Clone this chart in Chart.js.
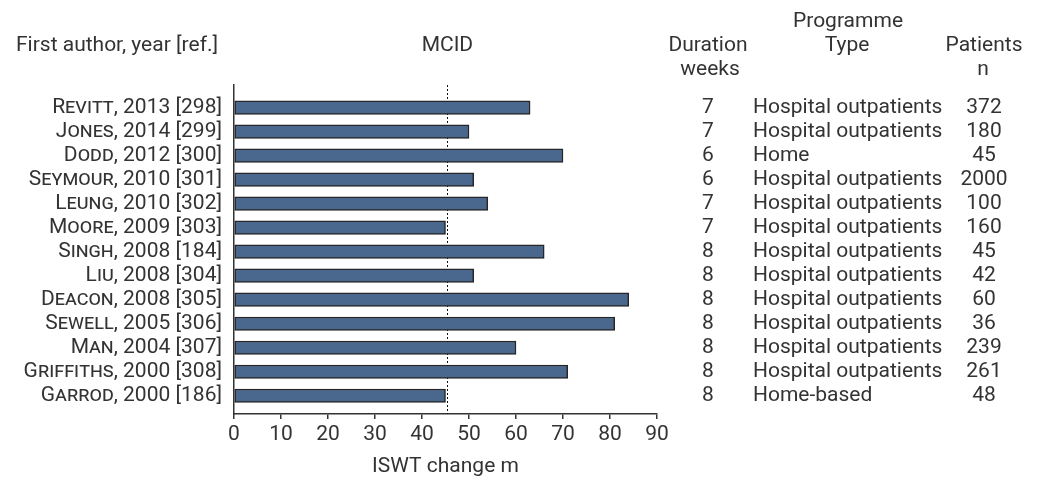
<!DOCTYPE html>
<html lang="en">
<head>
<meta charset="UTF-8">
<title>ISWT change after pulmonary rehabilitation</title>
<script src="https://cdn.jsdelivr.net/npm/chart.js@4"></script>
<style>
    html, body { margin: 0; padding: 0; background: #fff; }
    #wrap { width: 1040px; height: 481px; }
</style>
</head>
<body>
<div id="wrap"><canvas id="chart" width="1040" height="481"></canvas></div>
<script>
// study rows, top to bottom
const authors = [
    'Revitt, 2013 [298]', 'Jones, 2014 [299]', 'Dodd, 2012 [300]', 'Seymour, 2010 [301]',
    'Leung, 2010 [302]', 'Moore, 2009 [303]', 'Singh, 2008 [184]', 'Liu, 2008 [304]',
    'Deacon, 2008 [305]', 'Sewell, 2005 [306]', 'Man, 2004 [307]', 'Griffiths, 2000 [308]',
    'Garrod, 2000 [186]'
];
const iswtChange = [63, 50, 70, 51, 54, 45, 66, 51, 84, 81, 60, 71, 45];
const durationWeeks = [7, 7, 6, 6, 7, 7, 8, 8, 8, 8, 8, 8, 8];
const programmeType = [
    'Hospital outpatients', 'Hospital outpatients', 'Home', 'Hospital outpatients',
    'Hospital outpatients', 'Hospital outpatients', 'Hospital outpatients', 'Hospital outpatients',
    'Hospital outpatients', 'Hospital outpatients', 'Hospital outpatients', 'Hospital outpatients',
    'Home-based'
];
const patients = [372, 180, 45, 2000, 100, 160, 45, 42, 60, 36, 239, 261, 48];
const xMin = 0, xMax = 90, xStep = 10;
const mcid = 45.4;

const textColor = '#333';
const axisColor = '#333';
const fontFamily = 'Roboto, "Noto Sans", sans-serif';

// dotted MCID line, behind the bars
const mcidLine = {
    id: 'mcidLine',
    beforeDatasetsDraw(chart) {
        const { ctx, chartArea, scales: { x } } = chart;
        const px = Math.round(x.getPixelForValue(mcid)) + 0.5;
        ctx.save();
        ctx.strokeStyle = '#111';
        ctx.lineWidth = 1;
        ctx.setLineDash([2, 2]);
        ctx.beginPath();
        ctx.moveTo(px, chartArea.top);
        ctx.lineTo(px, chartArea.bottom);
        ctx.stroke();
        ctx.restore();
    }
};

// column headers and the programme table on the right
const sideTable = {
    id: 'sideTable',
    afterDraw(chart) {
        const { ctx, scales: { x, y } } = chart;
        ctx.save();
        ctx.font = '21px ' + fontFamily;
        ctx.fillStyle = textColor;
        ctx.textBaseline = 'middle';
        ctx.textAlign = 'center';
        ctx.fillText('First author, year [ref.]', 117, 46);
        ctx.fillText('MCID', x.getPixelForValue(mcid), 46);
        ctx.fillText('Programme', 848, 22);
        ctx.fillText('Duration', 708, 46);
        ctx.fillText('weeks', 710, 70);
        ctx.fillText('Type', 847, 46);
        ctx.fillText('Patients', 984, 46);
        ctx.fillText('n', 983, 70);
        authors.forEach((a, i) => {
            const py = y.getPixelForValue(i);
            ctx.textAlign = 'center';
            ctx.fillText(String(durationWeeks[i]), 708, py);
            ctx.textAlign = 'left';
            ctx.fillText(programmeType[i], 753, py);
            ctx.textAlign = 'center';
            ctx.fillText(String(patients[i]), 984, py);
        });
        ctx.restore();
    }
};

new Chart(document.getElementById('chart'), {
    type: 'bar',
    data: {
        datasets: [{
            data: iswtChange.map((v, i) => ({ x: v, y: i })),
            backgroundColor: '#4a678d',
            borderColor: '#262626',
            borderWidth: 1.5,
            borderSkipped: false,
            barThickness: 13.5
        }]
    },
    options: {
        indexAxis: 'y',
        responsive: false,
        animation: false,
        events: [],
        layout: { padding: { top: 85, right: 383, left: 0, bottom: 0 } },
        plugins: { legend: { display: false }, tooltip: { enabled: false } },
        scales: {
            x: {
                type: 'linear',
                min: xMin,
                max: xMax,
                ticks: { stepSize: xStep, color: textColor, font: { family: fontFamily, size: 21 }, padding: 3 },
                grid: { drawOnChartArea: false, drawTicks: true, tickLength: 5, color: axisColor, lineWidth: 1.5 },
                border: { color: axisColor, width: 1.5 },
                title: { display: true, text: 'ISWT change m', color: textColor,
                         font: { family: fontFamily, size: 21 }, padding: { top: 0, bottom: 2 } },
                afterFit(s) { s.height = 67; }
            },
            y: {
                type: 'linear',
                reverse: true,
                offset: false,
                min: -0.94,
                max: 12.76,
                ticks: {
                    stepSize: 1,
                    includeBounds: false,
                    autoSkip: false,
                    color: textColor,
                    padding: 12,
                    font: { family: fontFamily, size: 21, weight: 'small-caps' },
                    callback: v => Number.isInteger(v) ? authors[v] : ''
                },
                grid: { drawOnChartArea: false, drawTicks: false, offset: false },
                border: { color: axisColor, width: 1.5 },
                afterFit(s) { s.width = 234; }
            }
        }
    },
    plugins: [mcidLine, sideTable]
});
</script>
</body>
</html>
